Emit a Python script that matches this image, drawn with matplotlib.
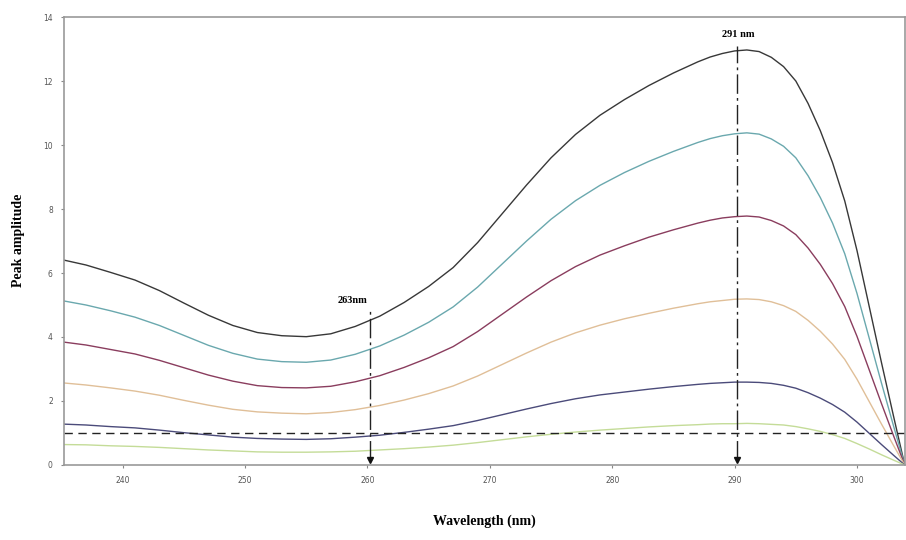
import matplotlib
matplotlib.use("Agg")
import matplotlib.pyplot as plt

# wavelength (nm) and peak amplitude
wavelength = [235, 237, 239, 241, 243, 245, 247, 249, 251, 253, 255, 257, 259, 261,
              263, 265, 267, 269, 271, 273, 275, 277, 279, 281, 283, 285,
              287, 288, 289, 290, 291, 292, 293, 294, 295, 296, 297, 298, 299,
              300, 301, 302, 303, 303.9]

curve_1 = [6.42, 6.25, 6.02, 5.78, 5.45, 5.06, 4.68, 4.36, 4.14, 4.04, 4.01, 4.10, 4.33, 4.65,
           5.08, 5.58, 6.17, 6.95, 7.85, 8.75, 9.60, 10.33, 10.93, 11.42, 11.86, 12.25,
           12.60, 12.75, 12.86, 12.94, 12.97, 12.92, 12.74, 12.45, 12.00, 11.30, 10.45, 9.45, 8.25,
           6.70, 4.95, 3.20, 1.50, 0.0]
curve_2 = [5.14, 5.00, 4.82, 4.62, 4.36, 4.05, 3.74, 3.49, 3.31, 3.23, 3.21, 3.28, 3.46, 3.72,
           4.06, 4.46, 4.94, 5.56, 6.28, 7.00, 7.68, 8.26, 8.74, 9.14, 9.49, 9.80,
           10.08, 10.20, 10.29, 10.35, 10.38, 10.34, 10.19, 9.96, 9.60, 9.04, 8.36, 7.56, 6.60,
           5.36, 3.96, 2.56, 1.20, 0.0]
curve_3 = [3.85, 3.75, 3.61, 3.47, 3.27, 3.04, 2.81, 2.62, 2.48, 2.42, 2.41, 2.46, 2.60, 2.79,
           3.05, 3.35, 3.70, 4.17, 4.71, 5.25, 5.76, 6.20, 6.56, 6.85, 7.12, 7.35,
           7.56, 7.65, 7.72, 7.76, 7.78, 7.75, 7.64, 7.47, 7.20, 6.78, 6.27, 5.67, 4.95,
           4.02, 2.97, 1.92, 0.90, 0.0]
curve_4 = [2.57, 2.50, 2.41, 2.31, 2.18, 2.02, 1.87, 1.74, 1.66, 1.62, 1.60, 1.64, 1.73, 1.86,
           2.03, 2.23, 2.47, 2.78, 3.14, 3.50, 3.84, 4.13, 4.37, 4.57, 4.74, 4.90,
           5.04, 5.10, 5.14, 5.18, 5.19, 5.17, 5.10, 4.98, 4.80, 4.52, 4.18, 3.78, 3.30,
           2.68, 1.98, 1.28, 0.60, 0.0]
curve_5 = [1.28, 1.25, 1.20, 1.16, 1.09, 1.01, 0.94, 0.87, 0.83, 0.81, 0.80, 0.82, 0.87, 0.93,
           1.02, 1.12, 1.23, 1.39, 1.57, 1.75, 1.92, 2.07, 2.19, 2.28, 2.37, 2.45,
           2.52, 2.55, 2.57, 2.59, 2.59, 2.58, 2.55, 2.49, 2.40, 2.26, 2.09, 1.89, 1.65,
           1.34, 0.99, 0.64, 0.30, 0.0]
curve_6 = [0.64, 0.63, 0.60, 0.58, 0.55, 0.51, 0.47, 0.44, 0.41, 0.40, 0.40, 0.41, 0.43, 0.47,
           0.51, 0.56, 0.62, 0.70, 0.79, 0.88, 0.96, 1.03, 1.09, 1.14, 1.19, 1.23,
           1.26, 1.28, 1.29, 1.29, 1.30, 1.29, 1.27, 1.25, 1.20, 1.13, 1.05, 0.95, 0.83,
           0.67, 0.50, 0.32, 0.15, 0.0]

curves = [curve_1, curve_2, curve_3, curve_4, curve_5, curve_6]
colors = ["#383838", "#6aa8ae", "#8a3d5e", "#e0bf98", "#4b4b7a", "#c4dc98"]

threshold = 1.0
marker_x = [260.2, 290.2]
marker_top = [4.8, 13.1]
marker_text = ["263nm", "291 nm"]
marker_text_x = [258.8, 290.3]
marker_text_y = [5.15, 13.45]

fig = plt.figure(figsize=(9.06, 5.4), dpi=100)
ax = fig.add_axes([0.0706, 0.1389, 0.928, 0.8296])

for y, c in zip(curves, colors):
    ax.plot(wavelength, y, color=c, lw=1.0)

ax.axhline(threshold, color="#222222", lw=1.0, ls=(0, (6, 4)))

for x, top, txt, tx, ty in zip(marker_x, marker_top, marker_text, marker_text_x, marker_text_y):
    ax.plot([x, x], [0.15, top], color="#222222", lw=1.0, ls=(0, (14, 3, 2, 3)))
    ax.plot(x, 0.15, marker="v", color="#111111", ms=4)
    ax.text(tx, ty, txt, ha="center", va="center", fontsize=7.5,
            fontweight="bold", family="Liberation Serif")

ax.set_xlim(235.2, 303.9)
ax.set_ylim(0, 14)
ax.set_xticks([240, 250, 260, 270, 280, 290, 300])
ax.set_yticks([0, 2, 4, 6, 8, 10, 12, 14])
ax.tick_params(length=2, width=0.8, color="#888888", labelsize=5.5,
               labelcolor="#555555", pad=6)
for s in ax.spines.values():
    s.set_color("#999999")
    s.set_linewidth(1.2)

fig.text(0.535, 0.035, "Wavelength (nm)", ha="center", va="center",
         fontsize=10, fontweight="bold", family="Liberation Serif")
fig.text(0.02, 0.555, "Peak amplitude", ha="center", va="center", rotation=90,
         fontsize=10, fontweight="bold", family="Liberation Serif")

fig.savefig("out.png", dpi=100)
